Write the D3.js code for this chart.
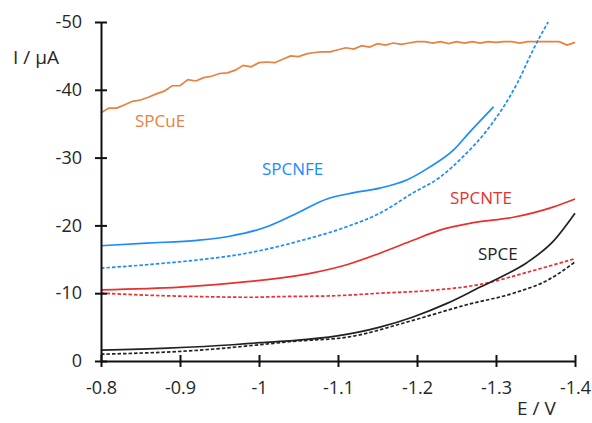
<!DOCTYPE html>
<html><head><meta charset="utf-8">
<script src="https://cdn.jsdelivr.net/npm/d3@7"></script>
<style>body{margin:0;background:#fff}svg{display:block}</style>
</head><body>
<svg id="c" width="592" height="423"></svg>
<script>
const xTicks = [-0.8,-0.9,-1.0,-1.1,-1.2,-1.3,-1.4];
const xTickLabels = ["-0.8","-0.9","-1","-1.1","-1.2","-1.3","-1.4"];
const yTicks = [0,-10,-20,-30,-40,-50];
const yTickLabels = ["0","-10","-20","-30","-40","-50"];

// SPCuE (orange, solid, noisy)
const cuE = [-0.80,-0.81,-0.82,-0.83,-0.84,-0.85,-0.86,-0.87,-0.88,-0.89,-0.90,-0.91,-0.92,-0.93,-0.94,-0.95,-0.96,-0.97,-0.98,-0.99,-1.00,-1.01,-1.02,-1.03,-1.04,-1.05,-1.06,-1.07,-1.08,-1.09,-1.10,-1.11,-1.12,-1.13,-1.14,-1.15,-1.16,-1.17,-1.18,-1.19,-1.20,-1.21,-1.22,-1.23,-1.24,-1.25,-1.26,-1.27,-1.28,-1.29,-1.30,-1.31,-1.32,-1.33,-1.34,-1.35,-1.36,-1.37,-1.38,-1.39,-1.40];
const cuI = [-36.6,-37.3,-37.3,-37.8,-38.3,-38.5,-38.9,-39.4,-39.8,-40.6,-40.6,-41.5,-41.3,-41.8,-42.0,-42.4,-42.5,-42.9,-43.6,-43.4,-44.0,-44.1,-44.0,-44.5,-45.0,-44.9,-45.3,-45.5,-45.6,-45.6,-45.9,-46.2,-46.0,-46.5,-46.3,-46.8,-46.6,-46.9,-46.7,-46.9,-47.1,-47.1,-46.9,-47.1,-46.8,-47.1,-46.9,-47.1,-46.9,-47.1,-47.0,-47.1,-47.1,-46.9,-47.1,-47.1,-47.1,-47.1,-47.1,-46.6,-47.0];

// SPCNFE (blue)
const nfSolidE = [-0.80,-0.858,-0.922,-0.963,-1.010,-1.048,-1.086,-1.119,-1.153,-1.187,-1.216,-1.246,-1.267,-1.297];
const nfSolidI = [-17.0,-17.4,-17.8,-18.4,-19.8,-21.8,-23.9,-24.8,-25.5,-26.7,-28.6,-31.1,-33.8,-37.5];
const nfDashE = [-0.80,-0.858,-0.922,-0.985,-1.048,-1.111,-1.153,-1.195,-1.229,-1.258,-1.289,-1.327,-1.347,-1.366];
const nfDashI = [-13.7,-14.2,-14.9,-15.9,-17.6,-19.8,-21.8,-24.8,-27.1,-30.1,-34.1,-41.0,-45.9,-50.0];

// SPCNTE (red)
const ntSolidE = [-0.80,-0.900,-0.985,-1.068,-1.111,-1.153,-1.195,-1.229,-1.271,-1.322,-1.372,-1.40];
const ntSolidI = [-10.5,-10.9,-11.7,-13.0,-14.2,-15.9,-17.8,-19.3,-20.4,-21.2,-22.7,-23.9];
const ntDashE = [-0.80,-0.860,-0.925,-0.990,-1.027,-1.090,-1.153,-1.216,-1.280,-1.343,-1.40];
const ntDashI = [-10.0,-9.7,-9.5,-9.4,-9.5,-9.6,-10.0,-10.4,-11.3,-13.2,-15.1];

// SPCE (black)
const ceSolidE = [-0.80,-0.884,-0.967,-1.001,-1.043,-1.099,-1.153,-1.195,-1.238,-1.280,-1.310,-1.339,-1.372,-1.40];
const ceSolidI = [-1.6,-1.9,-2.4,-2.7,-3.0,-3.7,-5.0,-6.5,-8.5,-10.9,-12.6,-14.5,-17.6,-21.8];
const ceDashE = [-0.80,-0.925,-1.001,-1.043,-1.111,-1.195,-1.263,-1.322,-1.365,-1.40];
const ceDashI = [-1.0,-1.6,-2.4,-2.9,-3.5,-6.0,-8.3,-10.0,-11.9,-14.6];

const svg = d3.select("#c");
const x = d3.scaleLinear().domain([-0.8,-1.4]).range([101,575]);
const y = d3.scaleLinear().domain([0,-50]).range([361,22]);
const font = "'Open Sans', sans-serif";
const txt = "#262626";

function draw(E, I, color, dash, curve){
  const pts = E.map((e,i)=>[e,I[i]]);
  svg.append("path").datum(pts)
    .attr("fill","none").attr("stroke",color).attr("stroke-width",1.7)
    .attr("stroke-dasharray", dash ? "3.5,2" : null)
    .attr("d", d3.line().x(d=>x(d[0])).y(d=>y(d[1])).curve(curve || d3.curveMonotoneX));
}

draw(cuE, cuI, "#E8813F", false, d3.curveLinear);
draw(nfSolidE, nfSolidI, "#1A8CFF", false);
draw(nfDashE, nfDashI, "#1A8CFF", true);
draw(ntSolidE, ntSolidI, "#E8302E", false);
draw(ntDashE, ntDashI, "#E8302E", true);
draw(ceSolidE, ceSolidI, "#222222", false);
draw(ceDashE, ceDashI, "#222222", true);

// axes
const gx = svg.append("g").attr("transform","translate(0,361)")
  .call(d3.axisBottom(x).tickValues(xTicks).tickSize(0).tickFormat((d,i)=>xTickLabels[i]));
gx.select(".domain").attr("stroke","#111").attr("stroke-width",2);
gx.selectAll(".tick line").attr("y1",-6).attr("y2",6).attr("stroke","#111").attr("stroke-width",2);
gx.selectAll(".tick text").attr("y",20).attr("font-size",18).attr("font-family",font).attr("fill",txt);

const gy = svg.append("g").attr("transform","translate(101,0)")
  .call(d3.axisLeft(y).tickValues(yTicks).tickSize(0).tickFormat((d,i)=>yTickLabels[i]));
gy.select(".domain").attr("stroke","#111").attr("stroke-width",2);
gy.selectAll(".tick line").attr("x1",-6).attr("x2",6).attr("stroke","#111").attr("stroke-width",2);
gy.selectAll(".tick text").attr("x",-19).attr("font-size",18).attr("font-family",font).attr("fill",txt);

svg.append("text").attr("x",13).attr("y",64).attr("font-size",19).attr("font-family",font).attr("fill",txt).text("I / µA");
svg.append("text").attr("x",517).attr("y",415).attr("font-size",19).attr("font-family",font).attr("fill",txt).text("E / V");

// series labels
const labels = [
  {t:"SPCuE", x:135, y:127, c:"#E8813F"},
  {t:"SPCNFE", x:262, y:175, c:"#1A8CFF"},
  {t:"SPCNTE", x:450, y:204, c:"#E8302E"},
  {t:"SPCE", x:478, y:260, c:"#222222"}
];
svg.selectAll(".lbl").data(labels).enter().append("text")
  .attr("x",d=>d.x).attr("y",d=>d.y).attr("fill",d=>d.c)
  .attr("font-size",17).attr("font-family",font).text(d=>d.t);
</script>
</body></html>
